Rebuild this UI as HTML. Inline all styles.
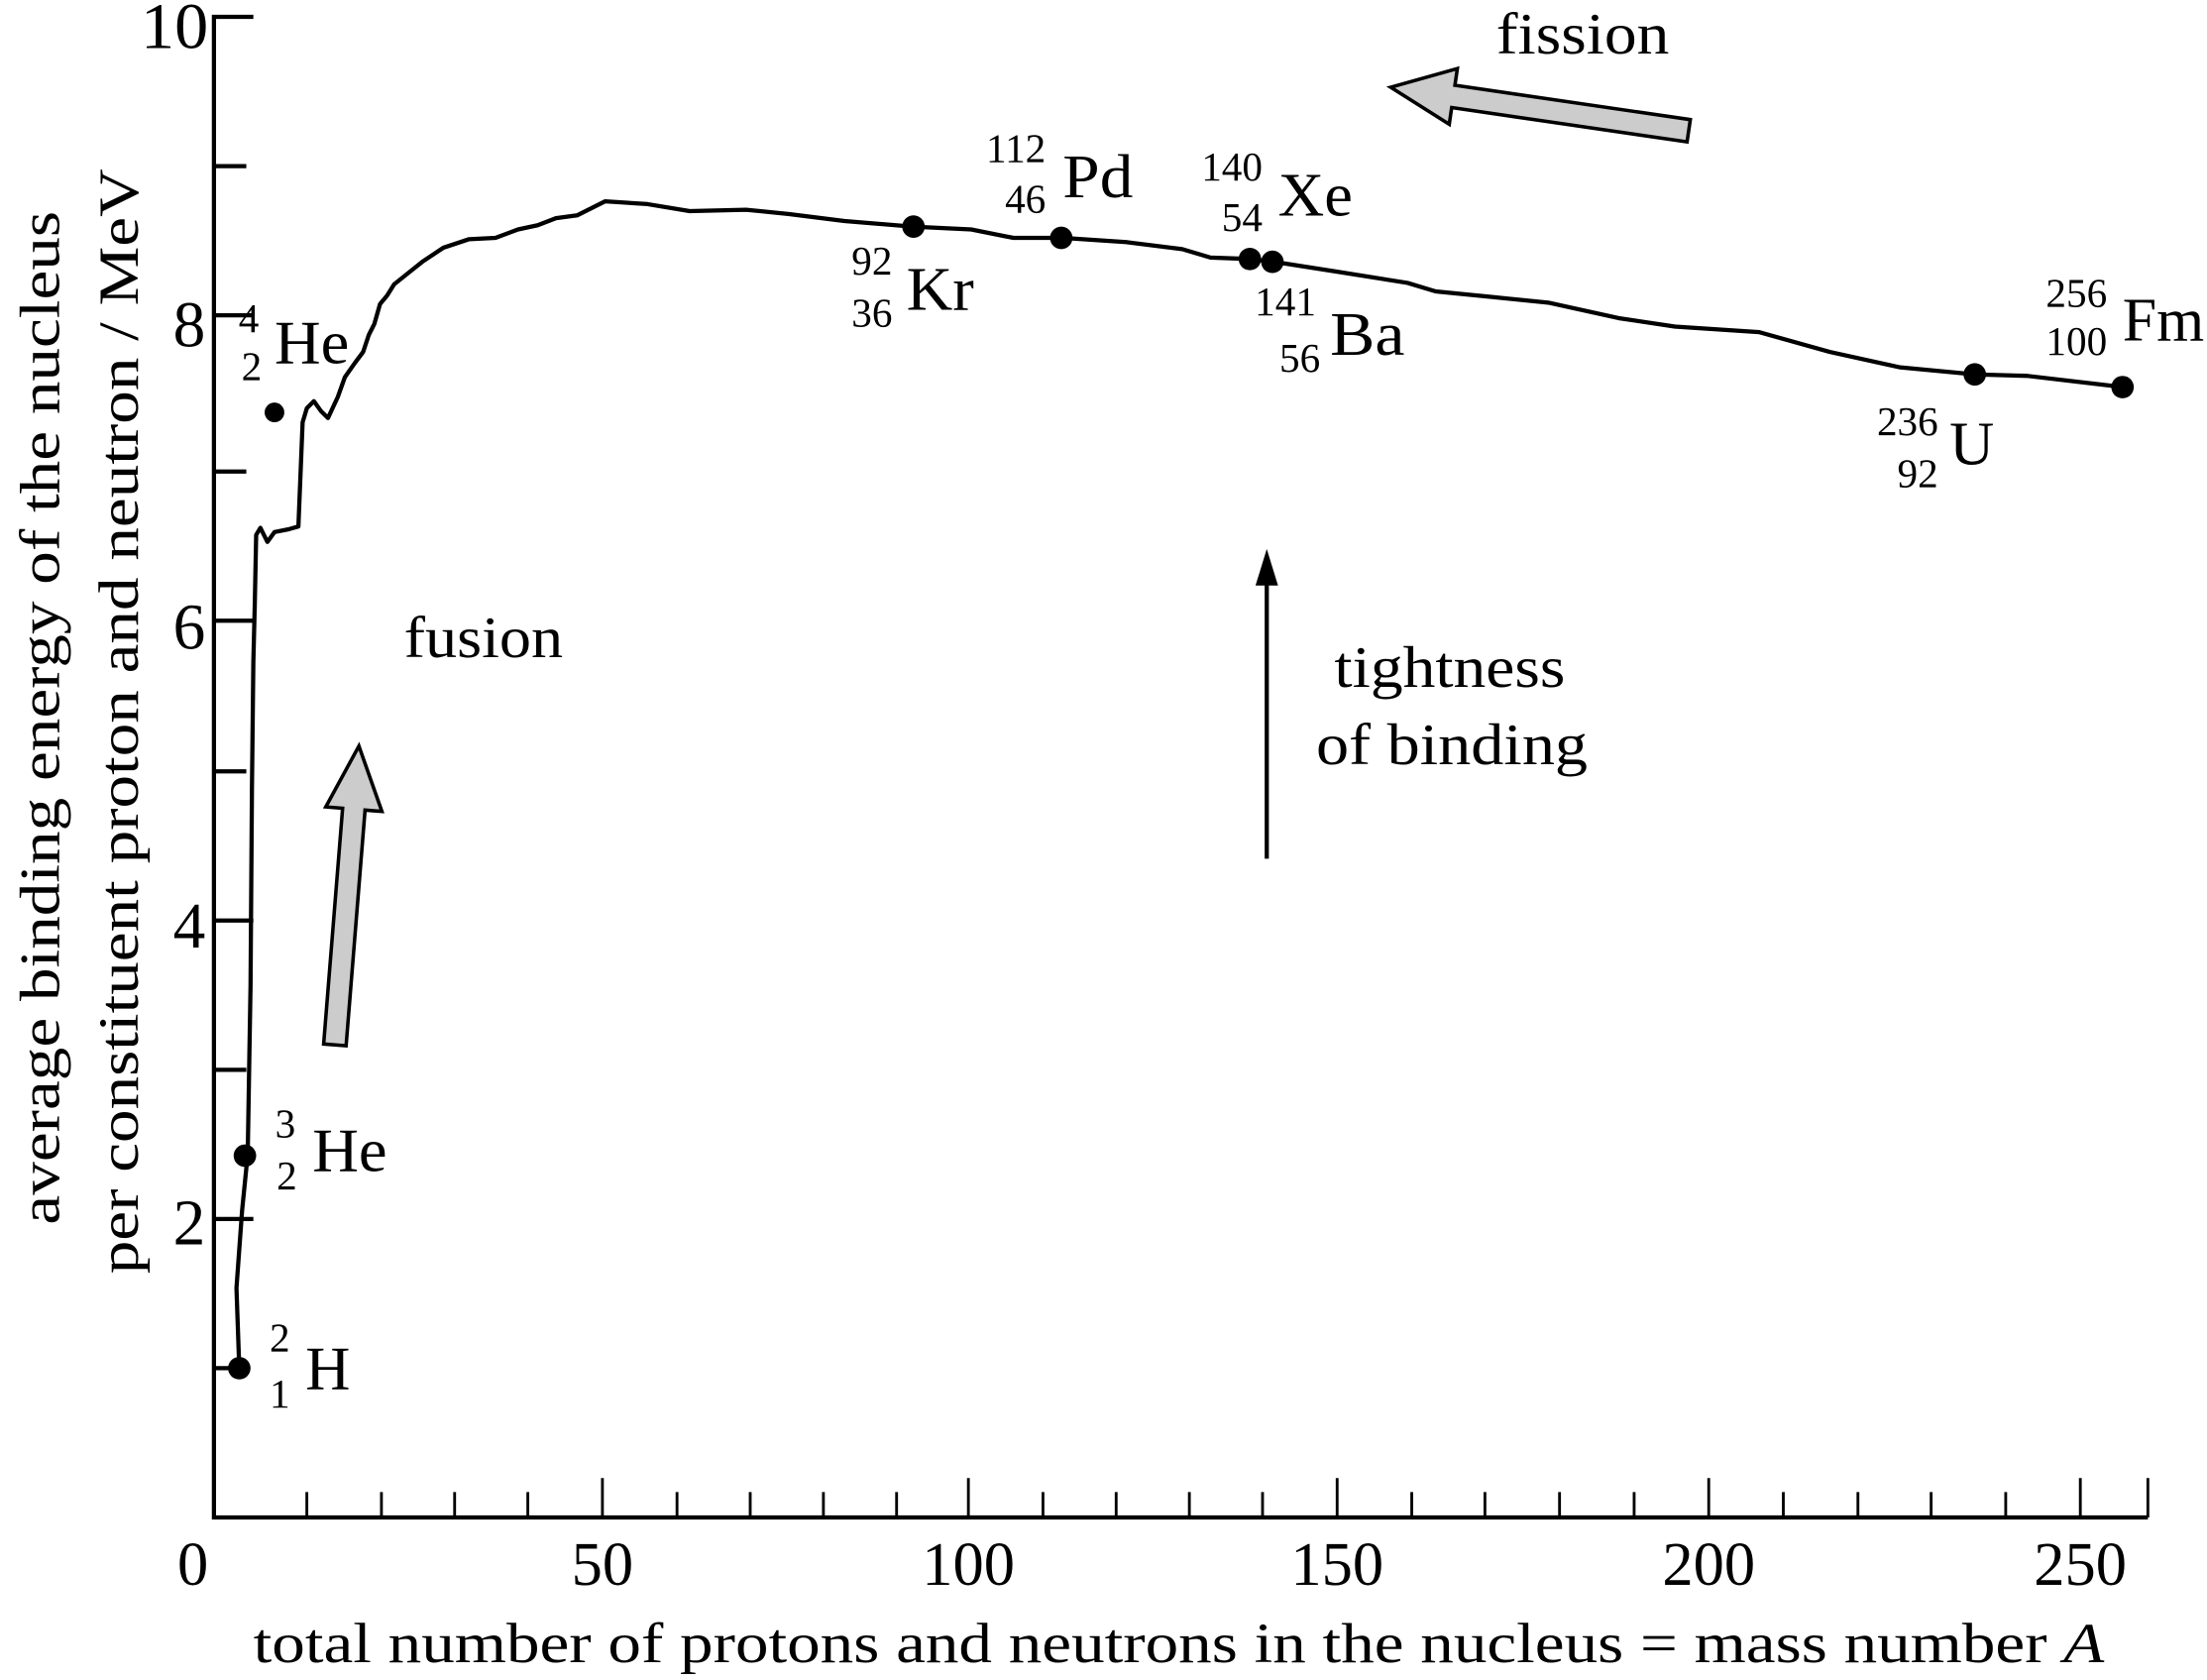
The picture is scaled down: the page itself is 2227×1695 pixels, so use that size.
<!DOCTYPE html>
<html><head><meta charset="utf-8"><style>
html,body{margin:0;padding:0;background:#fff;}
svg{display:block;}
text{font-family:"Liberation Serif",serif;fill:#000;}
</style></head><body>
<svg width="2227" height="1695" viewBox="0 0 1568 1193.5" preserveAspectRatio="none" xmlns="http://www.w3.org/2000/svg">
<g stroke="#000" stroke-width="3" fill="none">
<path d="M180,12 H152 V1078 H1526"/>
<path d="M152,118 H175 M152,224 H180 M152,335 H175 M152,441 H180 M152,548 H175 M152,654 H180 M152,760 H175 M152,866 H180 M152,972 H175"/>
</g>
<g stroke="#000" stroke-width="2">
<path d="M428,1078 V1050 M688,1078 V1050 M950,1078 V1050 M1214,1078 V1050 M1478,1078 V1050 M1526,1078 V1050"/>
<path d="M218,1078V1060 M271,1078V1060 M323,1078V1060 M375,1078V1060 M481,1078V1060 M533,1078V1060 M585,1078V1060 M637,1078V1060 M741,1078V1060 M793,1078V1060 M845,1078V1060 M897,1078V1060 M1003,1078V1060 M1055,1078V1060 M1108,1078V1060 M1161,1078V1060 M1267,1078V1060 M1320,1078V1060 M1372,1078V1060 M1425,1078V1060"/>
</g>
<g font-size="46" text-anchor="end">
<text x="148" y="34" textLength="48" lengthAdjust="spacingAndGlyphs">10</text>
<text x="146" y="246">8</text>
<text x="146" y="461">6</text>
<text x="146" y="673">4</text>
<text x="146" y="884">2</text>
</g>
<g font-size="44" text-anchor="middle">
<text x="137" y="1126">0</text>
<text x="428" y="1126">50</text>
<text x="688" y="1126">100</text>
<text x="950" y="1126">150</text>
<text x="1214" y="1126">200</text>
<text x="1478" y="1126">250</text>
</g>
<text x="180" y="1181" font-size="40" textLength="1315" lengthAdjust="spacingAndGlyphs">total number of protons and neutrons in the nucleus = mass number <tspan font-style="italic">A</tspan></text>
<text transform="translate(42,870) rotate(-90)" font-size="40" textLength="720" lengthAdjust="spacingAndGlyphs">average binding energy of the nucleus</text>
<text transform="translate(98,905) rotate(-90)" font-size="40" textLength="785" lengthAdjust="spacingAndGlyphs">per constituent proton and neutron / MeV</text>
<path fill="none" stroke="#000" stroke-width="3" stroke-linejoin="round" d="M170,972 L168,915 L172,860 L176,820 L177,760 L178,700 L179,560 L180,470 L181,430 L182,380 L185,375 L190,385 L195,378 L205,376 L212,374 L215,300 L218,290 L223,285 L228,292 L233,297 L240,282 L245,268 L252,258 L258,250 L262,238 L266,230 L270,216 L275,210 L280,202 L290,194 L300,186 L315,176 L333,170 L352,169 L368,163 L382,160 L395,155 L410,153 L420,148 L430,143 L460,145 L490,150 L530,149 L560,152 L600,157 L648,161 L690,163 L720,169 L755,169 L800,172 L840,177 L860,183 L888,184 L905,186 L950,193 L1000,201 L1020,207 L1060,211 L1100,215 L1150,226 L1190,232 L1250,236 L1300,250 L1350,261 L1403,266 L1440,267 L1508,275"/>
<g fill="#000">
<circle cx="170" cy="972" r="8"/>
<circle cx="174" cy="821" r="8"/>
<circle cx="195" cy="293" r="7"/>
<circle cx="649" cy="161" r="8"/>
<circle cx="754" cy="169" r="8"/>
<circle cx="888" cy="184" r="8"/>
<circle cx="904" cy="186" r="8"/>
<circle cx="1403" cy="266" r="8"/>
<circle cx="1508" cy="275" r="8"/>
</g>
<g font-size="44">
<text x="195" y="258" textLength="53" lengthAdjust="spacingAndGlyphs">He</text>
<text x="222" y="832" textLength="53" lengthAdjust="spacingAndGlyphs">He</text>
<text x="217" y="987">H</text>
<text x="644" y="220" textLength="48" lengthAdjust="spacingAndGlyphs">Kr</text>
<text x="755" y="140" textLength="50" lengthAdjust="spacingAndGlyphs">Pd</text>
<text x="908" y="153" textLength="53" lengthAdjust="spacingAndGlyphs">Xe</text>
<text x="945" y="252" textLength="53" lengthAdjust="spacingAndGlyphs">Ba</text>
<text x="1385" y="330">U</text>
<text x="1508" y="242" textLength="58" lengthAdjust="spacingAndGlyphs">Fm</text>
</g>
<g font-size="29" text-anchor="end">
<text x="184" y="236">4</text><text x="186" y="270">2</text>
<text x="210" y="808">3</text><text x="211" y="845">2</text>
<text x="206" y="960">2</text><text x="206" y="1000">1</text>
<text x="634" y="195">92</text><text x="634" y="232">36</text>
<text x="743" y="115">112</text><text x="743" y="151">46</text>
<text x="897" y="128">140</text><text x="897" y="164">54</text>
<text x="935" y="224">141</text><text x="938" y="264">56</text>
<text x="1377" y="309">236</text><text x="1377" y="346">92</text>
<text x="1497" y="218">256</text><text x="1497" y="252">100</text>
</g>
<g font-size="42">
<text x="1063" y="38" textLength="123" lengthAdjust="spacingAndGlyphs">fission</text>
<text x="287" y="467" textLength="113" lengthAdjust="spacingAndGlyphs">fusion</text>
<text x="948" y="488" textLength="164" lengthAdjust="spacingAndGlyphs">tightness</text>
<text x="935" y="543" textLength="193" lengthAdjust="spacingAndGlyphs">of binding</text>
</g>
<polygon transform="translate(988,62) rotate(8.3)" points="0,0 45,-20 45,-8 214,-8 214,8 45,8 45,20" fill="#ccc" stroke="#000" stroke-width="2.5"/>
<polygon transform="translate(255,530) rotate(94.6)" points="0,0 45,-20 45,-8 213,-8 213,8 45,8 45,20" fill="#ccc" stroke="#000" stroke-width="2.5"/>
<line x1="900" y1="610" x2="900" y2="410" stroke="#000" stroke-width="3"/>
<polygon points="900,390 892,416 908,416" fill="#000"/>
</svg>
</body></html>
